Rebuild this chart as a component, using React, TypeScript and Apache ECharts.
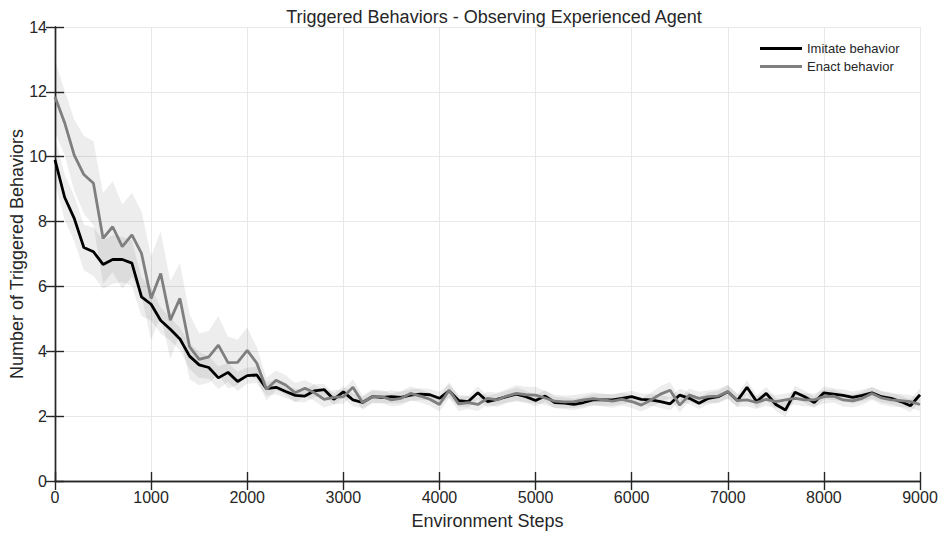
import React, { useEffect, useRef } from "react";
import * as echarts from "echarts";

const imitate: number[] = [
  9.9, 8.75, 8.1, 7.2, 7.07, 6.68, 6.83, 6.83, 6.72, 5.68,
  5.45, 4.95, 4.68, 4.38, 3.85, 3.58, 3.5, 3.18, 3.35, 3.07,
  3.25, 3.27, 2.85, 2.89, 2.76, 2.64, 2.62, 2.78, 2.82, 2.52,
  2.75, 2.5, 2.42, 2.6, 2.58, 2.6, 2.58, 2.65, 2.68, 2.66,
  2.55, 2.78, 2.48, 2.45, 2.72, 2.45, 2.52, 2.6, 2.68, 2.6,
  2.48, 2.62, 2.42, 2.4, 2.36, 2.42, 2.5, 2.5, 2.5, 2.55,
  2.6, 2.52, 2.5, 2.45, 2.38, 2.65, 2.55, 2.4, 2.55, 2.6,
  2.75, 2.48, 2.89, 2.45, 2.7, 2.36, 2.19, 2.74, 2.6, 2.42,
  2.72, 2.68, 2.64, 2.58, 2.64, 2.72, 2.6, 2.55, 2.45, 2.32,
  2.66,
];

const enact: number[] = [
  11.85, 11.05, 10.05, 9.45, 9.18, 7.48, 7.84, 7.23, 7.59, 7.02,
  5.63, 6.4, 4.96, 5.63, 4.14, 3.75, 3.83, 4.19, 3.65, 3.66,
  4.03, 3.63, 2.83, 3.11, 2.96, 2.72, 2.86, 2.72, 2.52, 2.58,
  2.6, 2.89, 2.42, 2.6, 2.6, 2.5, 2.55, 2.7, 2.62, 2.52,
  2.36, 2.8, 2.38, 2.42, 2.36, 2.55, 2.5, 2.62, 2.7, 2.66,
  2.65, 2.56, 2.46, 2.44, 2.45, 2.5, 2.54, 2.5, 2.46, 2.52,
  2.45, 2.34, 2.5, 2.68, 2.8, 2.34, 2.65, 2.55, 2.6, 2.62,
  2.75, 2.48, 2.5, 2.42, 2.52, 2.45, 2.5, 2.55, 2.5, 2.5,
  2.6, 2.62, 2.5, 2.47, 2.55, 2.7, 2.56, 2.5, 2.48, 2.45,
  2.36,
];

// half-widths of the shaded bands
const imitateSpread: number[] = [
  0.7, 0.7, 0.7, 0.7, 0.75, 0.75, 0.75, 0.7, 0.7, 0.6,
  0.5, 0.4, 0.35, 0.35, 0.4, 0.4, 0.35, 0.35, 0.3, 0.3,
  0.25, 0.25, 0.22, 0.22, 0.2, 0.2, 0.2, 0.2, 0.18, 0.18,
  0.18, 0.2, 0.18, 0.18, 0.18, 0.2, 0.18, 0.18, 0.18, 0.18,
  0.2, 0.2, 0.18, 0.18, 0.2, 0.18, 0.18, 0.18, 0.2, 0.18,
  0.18, 0.18, 0.18, 0.18, 0.18, 0.18, 0.18, 0.18, 0.18, 0.18,
  0.18, 0.18, 0.18, 0.2, 0.2, 0.2, 0.18, 0.18, 0.18, 0.18,
  0.2, 0.2, 0.22, 0.2, 0.2, 0.2, 0.22, 0.2, 0.18, 0.18,
  0.2, 0.18, 0.18, 0.18, 0.18, 0.18, 0.18, 0.18, 0.18, 0.2,
  0.2,
];

const enactSpread: number[] = [
  1.1, 1.0, 1.1, 1.2, 1.3, 1.4, 1.4, 1.3, 1.3, 1.3,
  1.3, 1.3, 1.2, 1.1, 1.0, 0.8, 0.8, 0.9, 0.8, 0.7,
  0.7, 0.5, 0.35, 0.3, 0.3, 0.3, 0.25, 0.25, 0.25, 0.22,
  0.22, 0.25, 0.22, 0.22, 0.2, 0.2, 0.22, 0.22, 0.2, 0.2,
  0.22, 0.25, 0.22, 0.2, 0.2, 0.2, 0.22, 0.22, 0.25, 0.25,
  0.25, 0.22, 0.2, 0.2, 0.2, 0.2, 0.2, 0.2, 0.2, 0.2,
  0.2, 0.2, 0.22, 0.25, 0.25, 0.22, 0.2, 0.2, 0.2, 0.22,
  0.22, 0.2, 0.2, 0.2, 0.2, 0.2, 0.2, 0.2, 0.2, 0.2,
  0.22, 0.2, 0.2, 0.2, 0.2, 0.2, 0.2, 0.2, 0.2, 0.2,
  0.2,
];

const steps: number[] = imitate.map((_, i) => i * 100);

const FONT = "'Liberation Sans', Arial, Helvetica, sans-serif";
const TEXT = "#262626";

function bandSeries(vals: number[], spread: number[]) {
  return {
    type: "custom",
    silent: true,
    z: 1,
    clip: true,
    data: steps.map((s, i) => [s, vals[i]]),
    renderItem: (params: any, api: any) => {
      if (params.dataIndex !== 0) return null;
      const up = steps.map((s, i) => api.coord([s, vals[i] + spread[i]]));
      const lo = steps.map((s, i) => api.coord([s, vals[i] - spread[i]])).reverse();
      return {
        type: "polygon",
        shape: { points: up.concat(lo) },
        style: { fill: "rgba(0,0,0,0.07)", stroke: "none" },
      };
    },
  };
}

export default function App() {
  const ref = useRef<HTMLDivElement>(null);
  useEffect(() => {
    if (!ref.current) return;
    const chart = echarts.init(ref.current, undefined, { renderer: "svg" });
    const tickStyle = { show: true, inside: true, length: 9, lineStyle: { color: TEXT, width: 1.4 } };
    const axisLineStyle = { show: true, lineStyle: { color: TEXT, width: 1.4 } };
    const plain = (v: number) => String(v);
    chart.setOption({
      animation: false,
      backgroundColor: "#ffffff",
      title: {
        text: "Triggered Behaviors - Observing Experienced Agent",
        left: 489,
        textAlign: "center",
        top: 3,
        textStyle: { fontFamily: FONT, fontSize: 18, fontWeight: "normal", color: TEXT },
      },
      legend: {
        data: ["Imitate behavior", "Enact behavior"],
        orient: "vertical",
        left: 755,
        top: 37,
        itemWidth: 42,
        itemHeight: 3,
        itemGap: 5,
        icon: "rect",
        textStyle: { fontFamily: FONT, fontSize: 13, color: TEXT },
      },
      grid: { left: 55, right: 27, top: 27, bottom: 57, containLabel: false, outerBoundsMode: "none" },
      xAxis: [
        {
          type: "value",
          min: 0,
          max: 9000,
          interval: 1000,
          position: "bottom",
          name: "Environment Steps",
          nameLocation: "middle",
          nameGap: 31,
          nameMoveOverlap: false,
          nameTextStyle: { fontFamily: FONT, fontSize: 18, color: TEXT },
          axisLine: axisLineStyle,
          axisTick: tickStyle,
          axisLabel: { fontFamily: FONT, fontSize: 16, color: TEXT, margin: 8, formatter: plain },
          splitLine: { show: true, lineStyle: { color: "#e8e8e8", width: 1 } },
        },
        {
          type: "value",
          min: 0,
          max: 9000,
          interval: 1000,
          position: "top",
          axisLine: axisLineStyle,
          axisTick: tickStyle,
          axisLabel: { show: false },
          splitLine: { show: false },
        },
      ],
      yAxis: [
        {
          type: "value",
          min: 0,
          max: 14,
          interval: 2,
          position: "left",
          name: "Number of Triggered Behaviors",
          nameLocation: "middle",
          nameGap: 29,
          nameMoveOverlap: false,
          nameTextStyle: { fontFamily: FONT, fontSize: 18, color: TEXT },
          axisLine: axisLineStyle,
          axisTick: tickStyle,
          axisLabel: { fontFamily: FONT, fontSize: 16, color: TEXT, margin: 8, formatter: plain },
          splitLine: { show: true, lineStyle: { color: "#e8e8e8", width: 1 } },
        },
        {
          type: "value",
          min: 0,
          max: 14,
          interval: 2,
          position: "right",
          axisLine: axisLineStyle,
          axisTick: tickStyle,
          axisLabel: { show: false },
          splitLine: { show: false },
        },
      ],
      series: [
        bandSeries(imitate, imitateSpread),
        bandSeries(enact, enactSpread),
        {
          name: "Imitate behavior",
          type: "line",
          z: 3,
          data: steps.map((s, i) => [s, imitate[i]]),
          showSymbol: false,
          symbol: "none",
          lineStyle: { color: "#000000", width: 2.8 },
          itemStyle: { color: "#000000" },
        },
        {
          name: "Enact behavior",
          type: "line",
          z: 4,
          data: steps.map((s, i) => [s, enact[i]]),
          showSymbol: false,
          symbol: "none",
          lineStyle: { color: "#7f7f7f", width: 2.8 },
          itemStyle: { color: "#7f7f7f" },
        },
      ],
    });
    return () => chart.dispose();
  }, []);
  return <div ref={ref} style={{ width: 947, height: 538, position: "absolute", left: 0, top: 0 }} />;
}
